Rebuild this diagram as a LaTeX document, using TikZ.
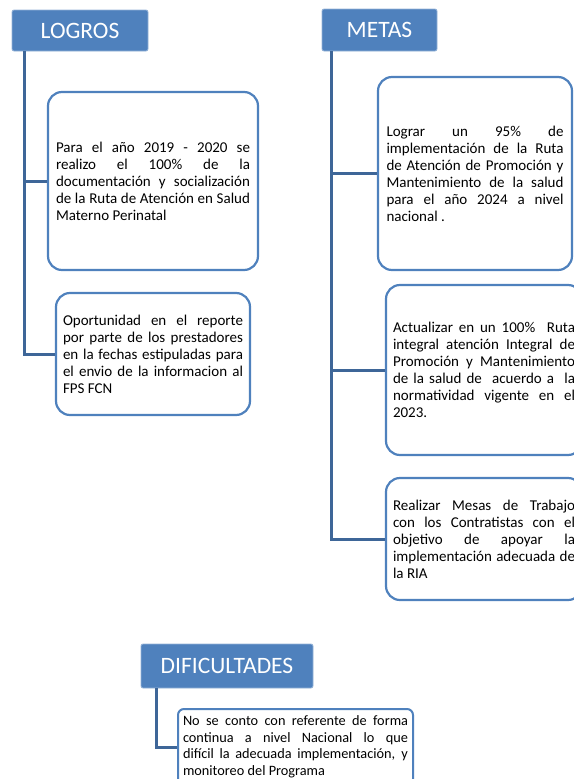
\documentclass[tikz,border=0pt]{standalone}
\usepackage{fontspec}
\setmainfont{Carlito}
\usetikzlibrary{positioning}

\definecolor{azul}{HTML}{4F81BD}
\definecolor{azulosc}{HTML}{3E6698}

\begin{document}
\begin{tikzpicture}[
        x=1pt, y=-1pt,
        every path/.style={thick},
        titulo/.style={draw=azul!60!white, fill=azul, rounded corners=2pt, text=white, inner sep=0pt, font=\fontsize{23.5}{27}\selectfont},
        caja/.style={draw=azul, line width=2.2pt, rounded corners=14pt, fill=white, align=justify, inner ysep=0pt, font=\fontsize{15}{17}\selectfont},
        rama/.style={draw=azulosc, line width=3pt}
    ]
    \useasboundingbox (0,0) rectangle (573,779);

    % Nodes
    \node (logros) [titulo, minimum width=136pt, minimum height=41pt] at (80,30.5) {LOGROS};
    \node (metas) [titulo, minimum width=115pt, minimum height=42pt] at (379.5,30) {METAS};
    \node (dificultades) [titulo, minimum width=172pt, minimum height=44pt] at (227,666) {DIFICULTADES};

    \node (l1) [caja, text width=194pt, inner xsep=8pt, minimum height=178pt] at (153,181) {Para el año 2019 - 2020 se\linebreak
        realizo el 100\% de la\linebreak
        documentación y socialización\linebreak
        de la Ruta de Atención en Salud\linebreak
        Materno Perinatal};
    \node (l2) [caja, text width=180pt, inner xsep=7pt, minimum height=122pt] at (153,354) {Oportunidad en el reporte\linebreak
        por parte de los prestadores\linebreak
        en la fechas estipuladas para\linebreak
        el envio de la informacion al\linebreak
        FPS FCN};

    \node (m1) [caja, text width=177pt, inner xsep=8.5pt, minimum height=193pt] at (475,173.5) {Lograr un 95\% de\linebreak
        implementación de la Ruta\linebreak
        de Atención de Promoción y\linebreak
        Mantenimiento de la salud\linebreak
        para el año 2024 a nivel\linebreak
        nacional .};
    \node (m2) [caja, text width=182pt, inner xsep=7pt, minimum height=170pt] at (484,370) {Actualizar en un 100\%~ Ruta\linebreak
        integral atención Integral de\linebreak
        Promoción y Mantenimiento\linebreak
        de la salud de~ acuerdo a~ la\linebreak
        normatividad vigente en el\linebreak
        2023.};
    \node (m3) [caja, text width=182pt, inner xsep=7pt, minimum height=122pt] at (484,539) {Realizar Mesas de Trabajo\linebreak
        con los Contratistas con el\linebreak
        objetivo de apoyar la\linebreak
        implementación adecuada de\linebreak
        la RIA};

    \node (d1) [caja, line width=2pt, rounded corners=6pt, text width=225pt, inner xsep=5pt, minimum height=76pt, font=\fontsize{14.3}{16.5}\selectfont] at (295.5,747) {No se conto con referente de forma\linebreak
        continua a nivel Nacional lo que\linebreak
        difícil la adecuada implementación, y\linebreak
        monitoreo del Programa};

    % Edges
    \draw[rama] ([xshift=13pt]logros.south west) |- (l2.west);
    \draw[rama] ([xshift=13pt]logros.south west) |- (l1.west);
    \draw[rama] ([xshift=10pt]metas.south west) |- (m3.west);
    \draw[rama] ([xshift=10pt]metas.south west) |- (m2.west);
    \draw[rama] ([xshift=10pt]metas.south west) |- (m1.west);
    \draw[rama] ([xshift=16pt]dificultades.south west) |- (d1.west);

\end{tikzpicture}
\end{document}
